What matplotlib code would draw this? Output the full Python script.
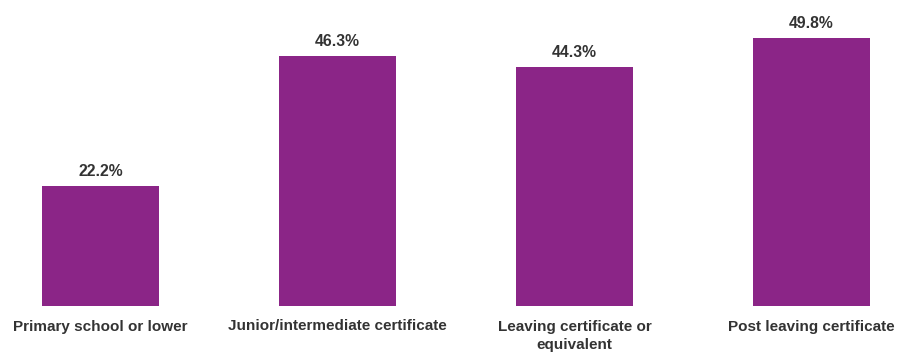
import matplotlib
matplotlib.use("Agg")
import matplotlib.pyplot as plt

plt.rcParams["font.family"] = ["Liberation Sans", "DejaVu Sans"]

categories = [
    "Primary school or lower",
    "Junior/intermediate certificate",
    "Leaving certificate or\nequivalent",
    "Post leaving certificate",
]
values = [22.2, 46.3, 44.3, 49.8]

BAR_COLOR = "#8b2587"
TEXT_COLOR = "#333333"

fig = plt.figure(figsize=(8.98, 3.56), dpi=100)
ax = fig.add_axes([0, 50.5 / 356, 1, 305.5 / 356])

x = range(len(categories))
bars = ax.bar(x, values, width=0.494, color=BAR_COLOR)

# value labels above bars
for b, v in zip(bars, values):
    ax.annotate(f"{v:.1f}%", (b.get_x() + b.get_width() / 2, v),
                xytext=(0, 10), textcoords="offset pixels",
                ha="center", va="baseline", fontsize=11.3, fontweight="bold",
                color=TEXT_COLOR)

# category labels under the baseline
for i, c in enumerate(categories):
    ax.annotate(c, (i, 0), xytext=(0, -14), textcoords="offset pixels",
                ha="center", va="top", fontsize=11, fontweight="bold",
                color=TEXT_COLOR, linespacing=1.4)

ax.set_xlim(-100.5 / 237, (898 - 100.5) / 237)
ax.set_ylim(0, 305.5 / 5.38)
ax.axis("off")

fig.savefig("out.png", dpi=100)
